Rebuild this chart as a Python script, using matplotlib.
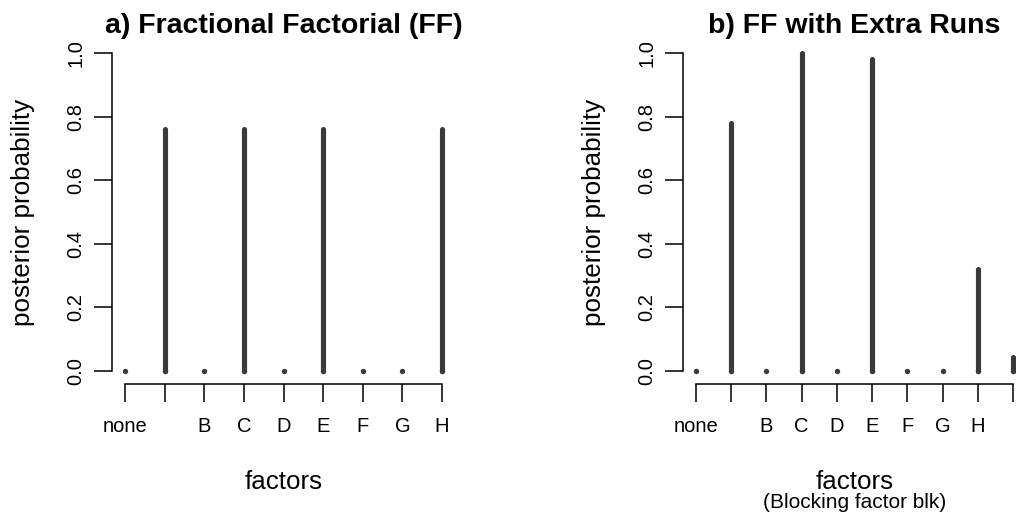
import numpy as np
import matplotlib.pyplot as plt

plt.rcParams['font.family'] = ['Liberation Sans', 'DejaVu Sans']

# posterior probabilities per factor
factors_a = ['none', 'A', 'B', 'C', 'D', 'E', 'F', 'G', 'H']
prob_a = [0.0, 0.76, 0.0, 0.76, 0.0, 0.76, 0.0, 0.0, 0.76]

factors_b = ['none', 'A', 'B', 'C', 'D', 'E', 'F', 'G', 'H', 'blk']
prob_b = [0.0, 0.78, 0.0, 1.0, 0.0, 0.98, 0.0, 0.0, 0.32, 0.045]

yticks = [0.0, 0.2, 0.4, 0.6, 0.8, 1.0]

W, H = 1016, 517
fig = plt.figure(figsize=(W / 100, H / 100), dpi=100)

bar_col = '#3a3a3a'


def panel(left_px, factors, probs, title, hidden, sub=None):
    ax = fig.add_axes([left_px / W, (H - 383.7) / H, 342.5 / W, 343.4 / H])
    x = np.arange(len(factors))
    ax.vlines(x, 0, probs, color=bar_col, lw=3.7, capstyle='round')
    ax.plot(x, np.zeros(len(x)), 'o', color=bar_col, ms=3.9, mew=0)
    n = len(factors) - 1
    ax.set_xlim(-0.04 * n, n + 0.04 * n)
    ax.set_ylim(-0.04, 1.04)
    for s in ['top', 'right']:
        ax.spines[s].set_visible(False)
    ax.spines['left'].set_bounds(0, 1)
    ax.spines['bottom'].set_bounds(0, n)
    for s in ['left', 'bottom']:
        ax.spines[s].set_linewidth(1.1)
    ax.set_xticks(x)
    ax.set_xticklabels(factors)
    # R drops labels that overlap or fall off the device
    for i, lab in enumerate(ax.get_xticklabels()):
        if factors[i] in hidden:
            lab.set_visible(False)
    ax.set_yticks(yticks)
    ax.set_yticklabels(['%.1f' % v for v in yticks], rotation=90, va='center')
    ax.tick_params(axis='both', direction='out', length=13.3, width=1.1,
                   labelsize=14.5)
    ax.tick_params(axis='x', pad=11)
    ax.tick_params(axis='y', pad=6)
    ax.text(0.5, 1.043, title, transform=ax.transAxes, ha='center', va='center',
            fontsize=20.5, fontweight='bold')
    ax.text(0.5, -0.286, 'factors', transform=ax.transAxes, ha='center',
            va='center', fontsize=18.7)
    if sub:
        ax.text(0.5, -0.345, sub, transform=ax.transAxes, ha='center',
                va='center', fontsize=15)
    ax.text(-0.26, 0.5, 'posterior probability', transform=ax.transAxes,
            ha='center', va='center', rotation=90, fontsize=18.7)
    return ax


panel(112.3, factors_a, prob_a, 'a) Fractional Factorial (FF)', ['A'])
panel(683.3, factors_b, prob_b, 'b) FF with Extra Runs', ['A', 'blk'],
      sub='(Blocking factor blk)')

fig.savefig('out.png', dpi=100)
